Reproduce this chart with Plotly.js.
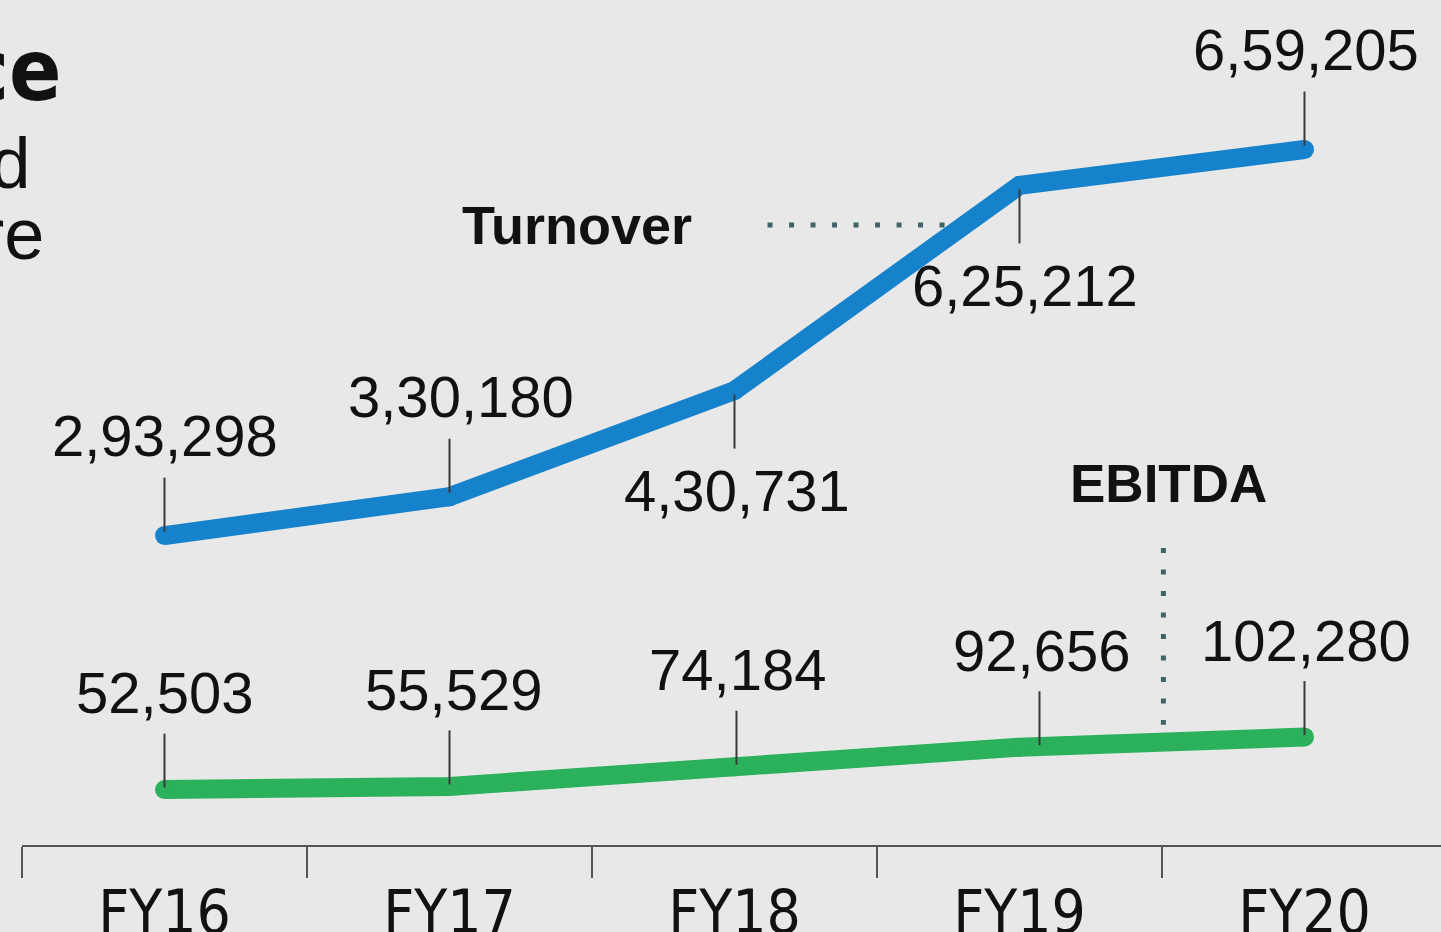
<!DOCTYPE html>
<html><head><meta charset="utf-8">
<script src="https://cdn.plot.ly/plotly-3.0.1.min.js"></script>
<style>html,body{margin:0;padding:0;background:#e7e8e7;overflow:hidden}</style>
</head><body><div id="chart" style="width:1441px;height:932px"></div>
<script>
// ---- data ----
const categories = ['FY16', 'FY17', 'FY18', 'FY19', 'FY20'];
const turnover = [293298, 330180, 430731, 625212, 659205];
const ebitda = [52503, 55529, 74184, 92656, 102280];
const turnoverLabels = ['2,93,298', '3,30,180', '4,30,731', '6,25,212', '6,59,205'];
const ebitdaLabels = ['52,503', '55,529', '74,184', '92,656', '102,280'];

// ---- label placement (style only) ----
const turnoverSide = [1, 1, -1, -1, 1];      // 1 = label above, -1 = below
const turnoverXShift = [0, 11, 3, 6, 2];
const ebitdaXShift = [0, 4, 3, 22, 2];
const ebitdaLeaderShift = [0, 0, 2, 20, 0];

const BG = '#e7e8e7';
const BLUE = '#1782cc';
const GREEN = '#2bb05c';
const LEADER = '#3a3a3a';
const labelFont = {family: 'Liberation Sans, Arial, sans-serif', size: 58, color: '#111'};
const narrow = 'Liberation Sans Narrow, Arial Narrow, DejaVu Sans Condensed, sans-serif';

const traces = [
  {x: categories, y: turnover, type: 'scatter', mode: 'lines+markers',
   line: {color: BLUE, width: 19}, marker: {color: BLUE, size: 19}, hoverinfo: 'skip', cliponaxis: false},
  {x: categories, y: ebitda, type: 'scatter', mode: 'lines+markers',
   line: {color: GREEN, width: 19}, marker: {color: GREEN, size: 19}, hoverinfo: 'skip', cliponaxis: false}
];

const annotations = [];
const shapes = [];

turnover.forEach((v, i) => {
  const s = turnoverSide[i];
  annotations.push({x: categories[i], y: v, xref: 'x', yref: 'y', text: turnoverLabels[i],
    showarrow: false, font: labelFont, xanchor: 'center', yanchor: 'middle',
    xshift: turnoverXShift[i], yshift: s * 100});
  shapes.push({type: 'line', xref: 'x', yref: 'y', x0: i, x1: i, ysizemode: 'pixel', yanchor: v,
    y0: s * 4, y1: s * 58, line: {color: LEADER, width: 2}});
});
ebitda.forEach((v, i) => {
  annotations.push({x: categories[i], y: v, xref: 'x', yref: 'y', text: ebitdaLabels[i],
    showarrow: false, font: labelFont, xanchor: 'center', yanchor: 'middle',
    xshift: ebitdaXShift[i], yshift: 97});
  shapes.push({type: 'line', xref: 'x', yref: 'y', xsizemode: 'pixel', xanchor: i,
    x0: ebitdaLeaderShift[i], x1: ebitdaLeaderShift[i], ysizemode: 'pixel', yanchor: v,
    y0: 2, y1: 56, line: {color: LEADER, width: 2}});
});

// series names
annotations.push({x: 1.446, y: 587700, xref: 'x', yref: 'y', text: '<b>Turnover</b>', showarrow: false,
  font: {family: 'Liberation Sans, Arial, sans-serif', size: 54, color: '#111'}});
annotations.push({x: 3.523, y: 342200, xref: 'x', yref: 'y', text: '<b>EBITDA</b>', showarrow: false,
  font: {family: 'Liberation Sans, Arial, sans-serif', size: 53, color: '#111'}});

// dotted connectors
shapes.push({type: 'line', xref: 'x', yref: 'y', x0: 2.116, x1: 2.75, y0: 587700, y1: 587700,
  line: {color: '#3f6468', width: 5, dash: '5px,16.5px'}});
shapes.push({type: 'line', xref: 'x', yref: 'y', x0: 3.505, x1: 3.505, y0: 281500, y1: 114000,
  line: {color: '#3f6468', width: 5, dash: '5px,16.5px'}});

// cropped heading text on the left
annotations.push({xref: 'paper', yref: 'paper', x: 0, y: 1, xanchor: 'right', yanchor: 'middle',
  xshift: 42, yshift: -70, text: 'Performance', showarrow: false,
  font: {family: narrow, size: 86, weight: 700, color: '#111'}});
annotations.push({xref: 'paper', yref: 'paper', x: 0, y: 1, xanchor: 'right', yanchor: 'middle',
  xshift: 11, yshift: -163, text: 'Turnover and', showarrow: false,
  font: {family: 'Liberation Sans, Arial, sans-serif', size: 72, color: '#111'}});
annotations.push({xref: 'paper', yref: 'paper', x: 0, y: 1, xanchor: 'right', yanchor: 'middle',
  xshift: 24, yshift: -234, text: 'EBITDA in ₹ crore', showarrow: false,
  font: {family: 'Liberation Sans, Arial, sans-serif', size: 72, color: '#111'}});

const layout = {
  width: 1441, height: 932,
  margin: {l: 22, r: 0, t: 0, b: 87, pad: 0},
  paper_bgcolor: BG, plot_bgcolor: BG,
  showlegend: false,
  xaxis: {type: 'category', categoryorder: 'array', categoryarray: categories,
    range: [-0.5, 4.479], tickson: 'boundaries', ticks: 'outside', ticklen: 31, tickwidth: 2,
    tickcolor: '#555', showline: true, linecolor: '#555', linewidth: 2, showgrid: false,
    zeroline: false, fixedrange: true, ticklabelstandoff: 14,
    tickfont: {family: narrow, size: 60, color: '#111'}},
  yaxis: {range: [0, 800950], visible: false, showgrid: false, zeroline: false, fixedrange: true},
  annotations: annotations,
  shapes: shapes
};

Plotly.newPlot('chart', traces, layout, {displayModeBar: false, staticPlot: true});
</script>
</body></html>
